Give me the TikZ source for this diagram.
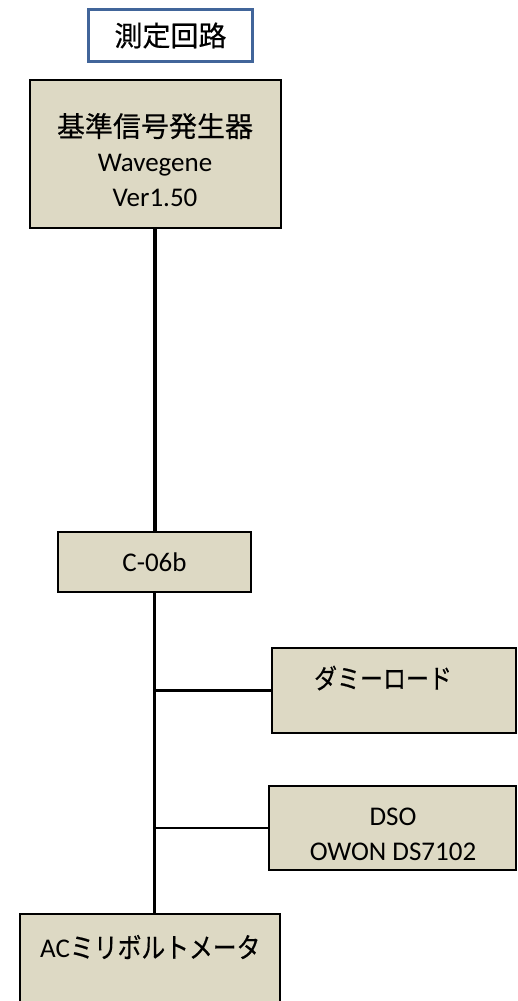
\documentclass[tikz,border=0pt]{standalone}
\usepackage{fontspec}
\setmainfont{Carlito}
\newfontfamily\jp{Noto Sans CJK JP}[FakeBold=0.4]
\newfontfamily\jpn{Noto Sans CJK JP}[FakeBold=0.4,FakeStretch=0.85]
\definecolor{boxfill}{HTML}{DDD9C4}
\definecolor{titleblue}{HTML}{41659A}
\begin{document}
\begin{tikzpicture}[x=1pt,y=-1pt,
  box/.style={draw=black,line width=1.8pt,fill=boxfill,inner sep=0pt},
  txt/.style={font=\fontsize{27}{35}\selectfont,align=center,inner sep=0pt},
  thickwire/.style={line width=4pt},
  wire/.style={line width=2.5pt}]
\useasboundingbox (0,0) rectangle (517,1001);
% title
\node[draw=titleblue,line width=3.2pt,fill=white,minimum width=164pt,minimum height=52pt,inner sep=0pt,
  font=\fontsize{28}{30}\selectfont\jp] (title) at (170.5,35.5) {測定回路};
% generator
\node[box,minimum width=251pt,minimum height=148pt] (gen) at (155.5,154) {};
\node[txt] (genT) at (155,160) {{\fontsize{28}{35}\selectfont\jp 基準信号発生器}\\Wavegene\\Ver1.50};
% C-06b
\node[box,minimum width=193pt,minimum height=60pt,txt] (c06) at (154.5,562) {C-06b};
% dummy load
\node[box,minimum width=244pt,minimum height=85pt] (dummy) at (394,690.5) {};
\node[txt,font=\fontsize{27}{35}\selectfont\jpn] (dummyT) at (383,678) {ダミーロード};
% DSO
\node[box,minimum width=247pt,minimum height=84pt] (dso) at (392.5,828) {};
\node[txt] (dsoT) at (393,834) {DSO\\OWON DS7102};
% AC millivoltmeter
\node[box,minimum width=260pt,minimum height=120pt] (ac) at (150,974) {};
\node[txt,anchor=west] (acT) at (40,947) {AC{\fontsize{28}{35}\selectfont\jpn ミリボルトメータ}};
% connectors
\draw[thickwire] (gen.south -| c06.north) -- (c06.north);
\draw[wire] (c06.south) -- (c06.south |- ac.north);
\draw[wire] (c06.south |- dummy.west) -- (dummy.west);
\draw[wire] (c06.south |- dso.west) -- (dso.west);
\end{tikzpicture}
\end{document}
